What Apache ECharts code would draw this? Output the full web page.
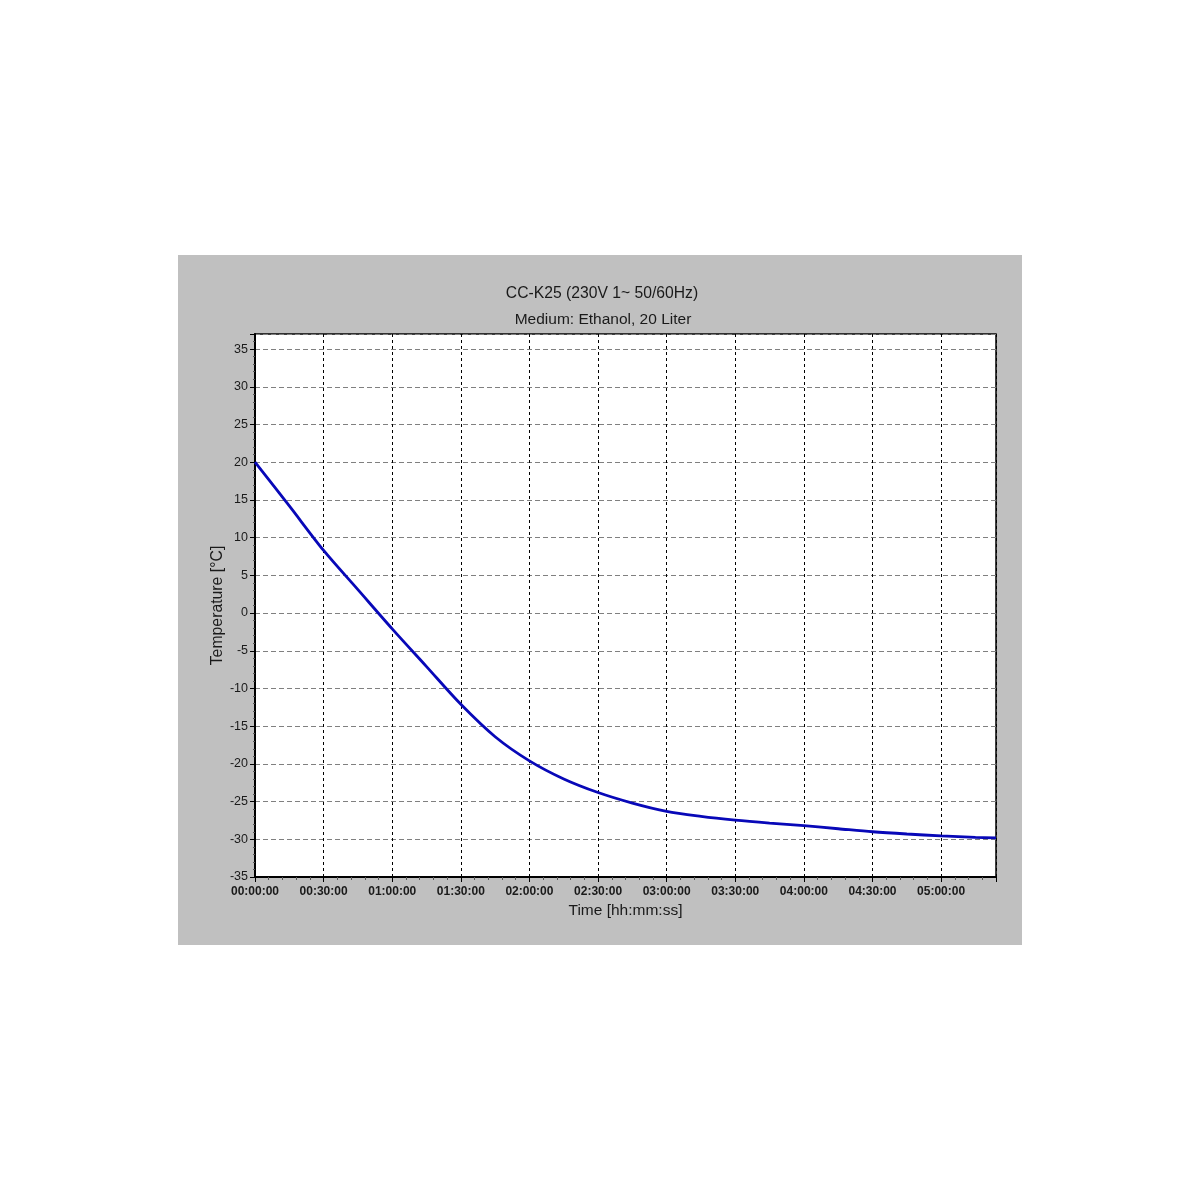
<!DOCTYPE html>
<html>
<head>
<meta charset="utf-8">
<script src="https://cdn.jsdelivr.net/npm/echarts@6/dist/echarts.min.js"></script>
<style>
html,body{margin:0;padding:0;background:#fff;}
#chart{width:1200px;height:1200px;}
</style>
</head>
<body>
<div id="chart"></div>
<script>
// Time in minutes since start
const timeMinutes = [0, 15, 30, 45, 60, 75, 90, 105, 120, 135, 150, 165, 180, 195, 210, 225, 240, 255, 270, 285, 300, 315, 324];
// Temperature in °C
const temperature = [20, 14.2, 8.3, 3.1, -2.1, -7.1, -12.1, -16.4, -19.6, -22.0, -23.8, -25.2, -26.3, -26.95, -27.45, -27.85, -28.2, -28.6, -29.0, -29.3, -29.55, -29.75, -29.8];
const titleText = "CC-K25 (230V 1~ 50/60Hz)";
const subtitleText = "Medium: Ethanol, 20 Liter";
const xAxisName = "Time [hh:mm:ss]";
const yAxisName = "Temperature [°C]";

function fmtTime(m) {
  const h = Math.floor(m / 60);
  const mm = Math.round(m % 60);
  return String(h).padStart(2, '0') + ':' + String(mm).padStart(2, '0') + ':00';
}

const chart = echarts.init(document.getElementById('chart'), null, {renderer: 'canvas'});
const font = "Liberation Sans, Arial, sans-serif";
chart.setOption({
  backgroundColor: '#ffffff',
  animation: false,
  graphic: [{
    type: 'rect',
    z: -10,
    shape: {x: 178, y: 255, width: 844, height: 690},
    style: {fill: '#c0c0c0'}
  }],
  title: [{
    text: titleText,
    left: 597, top: 281, textAlign: 'center',
    textStyle: {fontFamily: font, fontSize: 15.7, fontWeight: 'normal', color: '#1a1a1a'}
  }, {
    text: subtitleText,
    left: 598, top: 307, textAlign: 'center',
    textStyle: {fontFamily: font, fontSize: 15.5, fontWeight: 'normal', color: '#1a1a1a'}
  }],
  grid: {
    left: 255, top: 334, width: 741, height: 543,
    show: true, backgroundColor: '#ffffff', borderColor: '#000000', borderWidth: 1.5
  },
  xAxis: {
    type: 'value',
    min: 0, max: 324, interval: 30,
    name: xAxisName,
    nameLocation: 'middle', nameGap: 26,
    nameTextStyle: {fontFamily: font, fontSize: 15.5, color: '#1a1a1a'},
    axisLine: {show: true, onZero: false, lineStyle: {color: '#000', width: 2}},
    axisTick: {show: true, length: 5, inside: false, lineStyle: {color: '#000'}},
    minorTick: {show: true, splitNumber: 5, length: 3, lineStyle: {color: '#555'}},
    axisLabel: {
      showMaxLabel: false, margin: 9,
      fontFamily: font, fontSize: 12, fontWeight: 'bold', color: '#1a1a1a',
      formatter: fmtTime
    },
    splitLine: {show: true, lineStyle: {color: '#000', type: [3, 3], width: 1}}
  },
  yAxis: {
    type: 'value',
    min: -35, max: 37, interval: 5,
    name: yAxisName,
    nameLocation: 'middle', nameGap: 29,
    nameMoveOverlap: false,
    nameTextStyle: {fontFamily: font, fontSize: 15.8, color: '#1a1a1a'},
    axisLine: {show: true, onZero: false, lineStyle: {color: '#000', width: 2}},
    axisTick: {show: true, length: 5, lineStyle: {color: '#000'}},
    minorTick: {show: true, splitNumber: 5, length: 2, lineStyle: {color: '#555'}},
    axisLabel: {
      showMaxLabel: false, margin: 7,
      fontFamily: font, fontSize: 12.5, color: '#1a1a1a'
    },
    splitLine: {show: true, lineStyle: {color: '#808080', type: [5, 3], width: 1}}
  },
  series: [{
    type: 'line',
    data: timeMinutes.map((t, i) => [t, temperature[i]]),
    smooth: 0.3,
    showSymbol: false,
    lineStyle: {color: '#0808b8', width: 2.8},
    clip: true
  }]
});
</script>
</body>
</html>
